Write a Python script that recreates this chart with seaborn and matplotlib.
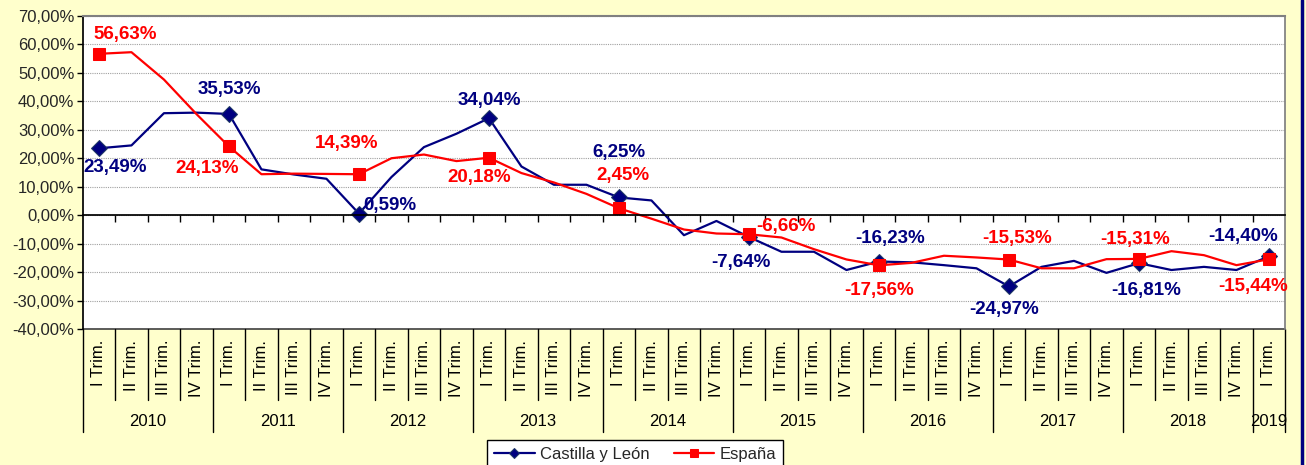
import numpy as np
import matplotlib
matplotlib.use("Agg")
import matplotlib.pyplot as plt
import matplotlib.transforms as mtransforms
from matplotlib.lines import Line2D
from matplotlib.ticker import FuncFormatter
import seaborn as sns

# Datos trimestrales (variación interanual, %)
years = ["2010", "2011", "2012", "2013", "2014", "2015", "2016", "2017", "2018", "2019"]
quarters = ["I Trim.", "II Trim.", "III Trim.", "IV Trim."]
n_points = 37

castilla_leon = [23.49, 24.5, 35.8, 36.0,
                 35.53, 16.1, 14.3, 12.8,
                 0.59, 13.4, 23.9, 28.6,
                 34.04, 17.1, 10.7, 10.7,
                 6.25, 5.2, -7.0, -2.0,
                 -7.64, -12.8, -12.8, -19.2,
                 -16.23, -16.5, -17.5, -18.6,
                 -24.97, -18.1, -16.0, -20.2,
                 -16.81, -19.2, -18.1, -19.2,
                 -14.40]
espana = [56.63, 57.2, 47.6, 35.5,
          24.13, 14.4, 14.6, 14.5,
          14.39, 20.0, 21.3, 19.0,
          20.18, 14.8, 11.5, 7.5,
          2.45, -1.2, -5.0, -6.4,
          -6.66, -7.8, -11.9, -15.5,
          -17.56, -16.7, -14.2, -14.8,
          -15.53, -18.6, -18.6, -15.4,
          -15.31, -12.6, -14.0, -17.5,
          -15.44]

# etiquetas de datos: desplazamiento en píxeles respecto al punto
cyl_label_offsets = {0: (16, -19), 4: (0, 24), 8: (31, 8), 12: (0, 18), 16: (0, 45),
                     20: (-8, -25), 24: (11, 23), 28: (-5, -23), 32: (7, -27), 36: (-26, 20)}
esp_label_offsets = {0: (26, 19), 4: (-22, -22), 8: (-12, 31), 12: (-10, -20), 16: (4, 33),
                     20: (37, 8), 24: (0, -25), 28: (8, 21), 32: (-4, 19), 36: (-16, -27)}

BG = "#FFFFCC"
NAVY = "#000080"
RED = "#FF0000"

sns.set_theme(style="white")
plt.rcParams["font.family"] = ["Liberation Sans", "DejaVu Sans"]

W, H = 1306, 465
fig = plt.figure(figsize=(W / 100, H / 100), dpi=100, facecolor=BG)
ax = fig.add_axes([82.7 / W, (H - 329.3) / H, 1202.5 / W, 313.6 / H])
ax.set_facecolor("white")

x = np.arange(n_points)
first_q = list(range(0, n_points, 4))

sns.lineplot(x=x, y=castilla_leon, ax=ax, color=NAVY, lw=1.6, marker="D", markersize=8.5,
             markevery=first_q, markerfacecolor=NAVY, markeredgecolor="#1F3864",
             label="Castilla y León")
sns.lineplot(x=x, y=espana, ax=ax, color=RED, lw=1.6, marker="s", markersize=8.5,
             markevery=first_q, markerfacecolor=RED, markeredgecolor=RED,
             label="España")

ax.set_xlim(-0.5, n_points - 0.5)
ax.set_ylim(-40, 70)
ax.set_yticks(np.arange(-40, 71, 10))
ax.yaxis.set_major_formatter(FuncFormatter(lambda v, p: f"{v:.2f}".replace(".", ",") + "%"))
ax.tick_params(axis="y", direction="out", length=4, width=1, color="black",
               labelsize=12, pad=2, left=True)
ax.yaxis.grid(True, linestyle=(0, (1, 1)), color="#A0A0A0", lw=0.8)
ax.set_axisbelow(True)

# eje de categorías en 0 con marcas entre trimestres
ax.spines["bottom"].set_position(("data", 0))
ax.spines["bottom"].set_color("black")
ax.spines["left"].set_color("black")
ax.spines["top"].set_color("#808080")
ax.spines["top"].set_linewidth(1.5)
ax.spines["right"].set_color("#808080")
ax.set_xticks(np.arange(0.5, n_points - 1, 1))
ax.tick_params(axis="x", direction="out", length=5, width=1, color="black",
               labelbottom=False, bottom=True)
ax.axhline(-40, color="#404040", lw=1.2, clip_on=False)
ax.set_xlabel("")
ax.set_ylabel("")

# etiquetas de categorías (trimestre / año)
blend = mtransforms.blended_transform_factory(ax.transData, ax.transAxes)
for i in range(n_points):
    ax.text(i, -0.034, quarters[i % 4], transform=blend, rotation=90,
            ha="center", va="top", fontsize=12, color="black")
for k in range(n_points + 1):
    bx = k - 0.5
    y_end = -0.3275 if (k % 4 == 0 or k == n_points) else -0.2255
    ax.plot([bx, bx], [0, y_end], transform=blend, color="black", lw=1, clip_on=False)
for j, yr in enumerate(years):
    idx = [i for i in range(n_points) if i // 4 == j]
    ax.text(np.mean(idx), -0.2946, yr, transform=blend, ha="center", va="center",
            fontsize=12, color="black")

# etiquetas de datos
def fmt(v):
    return f"{v:.2f}".replace(".", ",") + "%"

for i, (dx, dy) in cyl_label_offsets.items():
    ax.annotate(fmt(castilla_leon[i]), (i, castilla_leon[i]), xytext=(dx, dy),
                textcoords="offset pixels", ha="center", va="center",
                fontsize=13.5, fontweight="bold", color=NAVY)
for i, (dx, dy) in esp_label_offsets.items():
    ax.annotate(fmt(espana[i]), (i, espana[i]), xytext=(dx, dy),
                textcoords="offset pixels", ha="center", va="center",
                fontsize=13.5, fontweight="bold", color=RED)

handles, labels = ax.get_legend_handles_labels()
ax.legend(handles, labels, loc="upper center", bbox_to_anchor=(635 / W, 1 - 432 / H),
          bbox_transform=fig.transFigure, ncol=2, frameon=True, fancybox=False,
          edgecolor="black", facecolor="white", framealpha=1, fontsize=12,
          markerscale=0.6, handlelength=2.45, handletextpad=0.3, columnspacing=1.45,
          borderpad=0.4)

fig.add_artist(Line2D([1302 / W, 1302 / W], [0, 1], transform=fig.transFigure,
                      color=NAVY, lw=2.5))

fig.savefig("out.png", dpi=100, facecolor=BG)
